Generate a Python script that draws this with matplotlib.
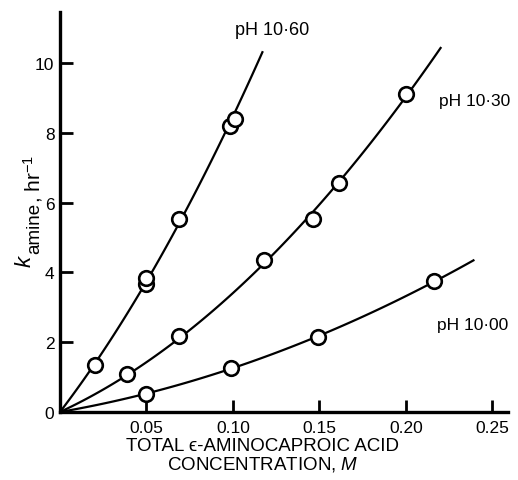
import numpy as np
import matplotlib
matplotlib.use('Agg')
import matplotlib.pyplot as plt

plt.rcParams['font.family'] = ['Liberation Sans', 'DejaVu Sans']
plt.rcParams['mathtext.fontset'] = 'custom'
plt.rcParams['mathtext.rm'] = 'Liberation Sans'
plt.rcParams['mathtext.it'] = 'Liberation Sans:italic'

# data (total concentration M, k_amine hr^-1)
x_1060 = [0.020, 0.050, 0.050, 0.069, 0.098, 0.101]
y_1060 = [1.36, 3.67, 3.84, 5.53, 8.19, 8.40]
x_1030 = [0.039, 0.069, 0.118, 0.146, 0.161, 0.200]
y_1030 = [1.09, 2.18, 4.35, 5.53, 6.56, 9.11]
x_1000 = [0.050, 0.099, 0.149, 0.216]
y_1000 = [0.52, 1.26, 2.15, 3.75]

# where each drawn curve stops (x, y)
curve_end = {'10.60': (0.117, 10.45), '10.30': (0.220, 10.43), '10.00': (0.239, 4.33)}

series = [('10.60', x_1060, y_1060), ('10.30', x_1030, y_1030), ('10.00', x_1000, y_1000)]

fig = plt.figure(figsize=(5.18, 4.81), dpi=100)
ax = fig.add_axes([0.1158, 0.1414, 0.865, 0.8316])

for name, xs, ys in series:
    xe, ye = curve_end[name]
    xf = np.array(xs + [xe])
    yf = np.array(ys + [ye])
    # smooth curve through the origin, like the hand drawn ones
    A = np.vstack([xf, xf ** 2]).T
    a, b = np.linalg.lstsq(A, yf, rcond=None)[0]
    xx = np.linspace(0, xe, 100)
    ax.plot(xx, a * xx + b * xx ** 2, color='black', lw=1.6, zorder=2)
    ax.plot(xs, ys, 'o', ms=10.5, mfc='white', mec='black', mew=1.9, zorder=3)

ax.set_xlim(0, 0.259)
ax.set_ylim(0, 11.46)
for s in ['top', 'right']:
    ax.spines[s].set_visible(False)
for s in ['left', 'bottom']:
    ax.spines[s].set_linewidth(2.4)

ax.set_xticks([0.05, 0.10, 0.15, 0.20, 0.25])
ax.set_xticklabels(['0.05', '0.10', '0.15', '0.20', '0.25'])
ax.set_yticks([0, 2, 4, 6, 8, 10])
ax.tick_params(direction='in', length=9, width=2, labelsize=12.5)
ax.tick_params(axis='x', pad=6)
ax.tick_params(axis='y', pad=4)

ax.text(0.1225, 10.97, 'pH 10·60', fontsize=13, ha='center', va='center')
ax.text(0.219, 8.91, 'pH 10·30', fontsize=12.5, ha='left', va='center')
ax.text(0.218, 2.52, 'pH 10·00', fontsize=12.5, ha='left', va='center')

# y label: k with a nearly full size, lowered "amine"
t_k = fig.text(31 / 518, 1 - 268 / 481, r'$\mathit{k}$', fontsize=16, rotation=90,
               rotation_mode='anchor', ha='left', va='baseline')
t_am = ax.annotate('amine', xy=(1, 1), xycoords=t_k, xytext=(2.2, 0), textcoords='offset points',
                   fontsize=13.5, rotation=90, rotation_mode='anchor', ha='left', va='baseline')
ax.annotate(', hr$^{-1}$', xy=(1, 1), xycoords=t_am, xytext=(-2.2, 0), textcoords='offset points',
            fontsize=15, rotation=90, rotation_mode='anchor', ha='left', va='baseline')

ax.set_xlabel('TOTAL \u03f5-AMINOCAPROIC ACID\nCONCENTRATION, $\\mathit{M}$', fontsize=13.5,
              labelpad=1, linespacing=1.0)
ax.xaxis.set_label_coords(0.453, -0.062)
ax.xaxis.label.set_va('top')

plt.savefig('out.png', dpi=100)
